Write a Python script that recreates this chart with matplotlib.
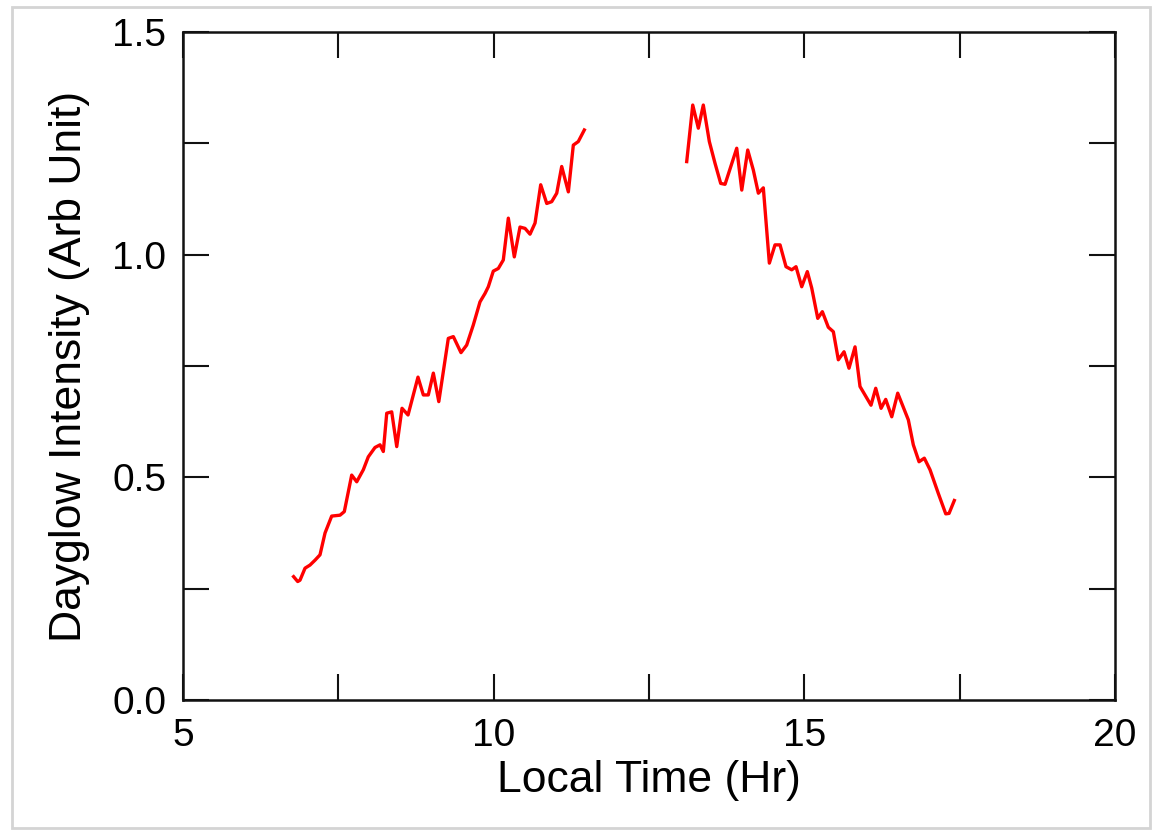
import matplotlib
matplotlib.use("Agg")
import matplotlib.pyplot as plt
from matplotlib.patches import Rectangle
from matplotlib.ticker import MultipleLocator

# Morning branch of the dayglow intensity (local time in hours, arbitrary units)
morning_time = [6.78, 6.846, 6.883, 6.964, 7.044, 7.125, 7.205, 7.286, 7.393, 7.527,
                7.596, 7.715, 7.796, 7.902, 7.982, 8.090, 8.171, 8.224, 8.279, 8.359,
                8.440, 8.525, 8.622, 8.782, 8.868, 8.948, 9.029, 9.117, 9.270, 9.351,
                9.474, 9.566, 9.672, 9.780, 9.861, 9.914, 9.994, 10.075, 10.155, 10.236,
                10.332, 10.424, 10.505, 10.585, 10.666, 10.757, 10.854, 10.934, 11.015, 11.095,
                11.202, 11.282, 11.362, 11.459]
morning_intensity = [0.277, 0.266, 0.269, 0.296, 0.303, 0.314, 0.326, 0.375, 0.413, 0.415,
                     0.423, 0.505, 0.490, 0.517, 0.546, 0.567, 0.573, 0.558, 0.644, 0.647,
                     0.569, 0.655, 0.640, 0.725, 0.685, 0.685, 0.734, 0.670, 0.812, 0.816,
                     0.780, 0.797, 0.842, 0.894, 0.913, 0.928, 0.963, 0.969, 0.988, 1.082,
                     0.995, 1.062, 1.059, 1.046, 1.071, 1.157, 1.115, 1.119, 1.138, 1.198,
                     1.141, 1.246, 1.254, 1.280]

# Afternoon branch
afternoon_time = [13.107, 13.204, 13.294, 13.374, 13.471, 13.563, 13.654, 13.724, 13.912, 13.993,
                  14.089, 14.179, 14.260, 14.340, 14.437, 14.528, 14.609, 14.705, 14.797, 14.866,
                  14.958, 15.048, 15.119, 15.216, 15.290, 15.386, 15.467, 15.547, 15.639, 15.719,
                  15.816, 15.896, 16.073, 16.149, 16.235, 16.310, 16.407, 16.503, 16.674, 16.754,
                  16.846, 16.931, 17.023, 17.156, 17.276, 17.329, 17.414]
afternoon_intensity = [1.209, 1.336, 1.284, 1.336, 1.254, 1.205, 1.160, 1.158, 1.239, 1.145,
                       1.235, 1.190, 1.138, 1.150, 0.981, 1.022, 1.022, 0.973, 0.966, 0.973,
                       0.928, 0.962, 0.925, 0.857, 0.872, 0.837, 0.827, 0.764, 0.782, 0.745,
                       0.793, 0.704, 0.662, 0.700, 0.655, 0.675, 0.636, 0.689, 0.629, 0.573,
                       0.535, 0.543, 0.517, 0.464, 0.418, 0.419, 0.448]

x_ticks = [5, 10, 15, 20]
x_ticklabels = ["5", "10", "15", "20"]
y_ticks = [0.0, 0.5, 1.0, 1.5]
y_ticklabels = ["0.0", "0.5", "1.0", "1.5"]

plt.rcParams["font.family"] = ["Liberation Sans", "DejaVu Sans"]

W, H = 1157, 832
fig = plt.figure(figsize=(W / 100, H / 100), dpi=100)
fig.patch.set_facecolor("white")

# Light frame around the whole figure
fig.patches.append(Rectangle((12 / W, 4 / H), (1150 - 12) / W, (825 - 4) / H,
                             transform=fig.transFigure, fill=False,
                             edgecolor="#d4d4d4", linewidth=2.0))

ax = fig.add_axes([183 / W, (H - 700) / H, (1115 - 183) / W, (700 - 32) / H])

ax.plot(morning_time, morning_intensity, color="#ff0000", linewidth=2.4)
ax.plot(afternoon_time, afternoon_intensity, color="#ff0000", linewidth=2.4)

ax.set_xlim(5, 20)
ax.set_ylim(0, 1.5)

ax.set_xticks(x_ticks)
ax.set_xticklabels(x_ticklabels)
ax.set_yticks(y_ticks)
ax.set_yticklabels(y_ticklabels)
ax.xaxis.set_minor_locator(MultipleLocator(2.5))
ax.yaxis.set_minor_locator(MultipleLocator(0.25))

ax.tick_params(which="both", direction="in", top=True, right=True,
               length=19, width=1.5, color="#111111")
ax.tick_params(axis="x", which="major", labelsize=28, pad=13)
ax.tick_params(axis="y", which="major", labelsize=28, pad=12)

for s in ax.spines.values():
    s.set_linewidth(1.8)
    s.set_color("#111111")

ax.set_xlabel("Local Time (Hr)", fontsize=32, labelpad=4)
ax.set_ylabel("Dayglow Intensity (Arb Unit)", fontsize=32, labelpad=16)

fig.savefig("out.png", dpi=100, facecolor="white")
